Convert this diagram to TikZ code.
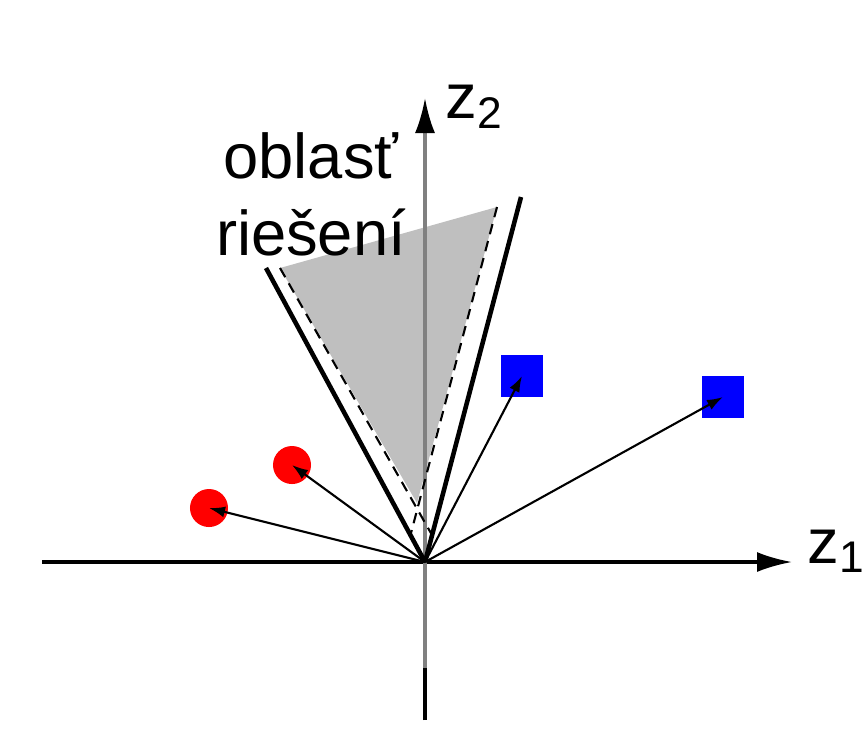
\documentclass[tikz,border=0pt]{standalone}
\usepackage{fontspec}
\setmainfont{Liberation Sans}
\usetikzlibrary{arrows.meta}

\begin{document}
\begin{tikzpicture}[
  x=0.01cm, y=-0.01cm,
  axis/.style={line width=0.9pt, -{Latex[length=3.5mm, width=2mm, color=black]}},
  bound/.style={line width=1.3pt},
  margin/.style={line width=0.6pt, dash pattern=on 3pt off 2pt},
  vec/.style={line width=0.6pt, -{Latex[length=1.6mm, width=1.1mm]}},
  classa/.style={circle, fill=red, minimum size=3.8mm, inner sep=0pt},
  classb/.style={fill=blue, minimum size=4.2mm, inner sep=0pt},
  lbl/.style={font=\fontsize{18}{21.8}\selectfont}
]
  \useasboundingbox (0,0) rectangle (865,739);

  \coordinate (O) at (425,562);
  \coordinate (xa) at (42,562);
  \coordinate (xb) at (792,562);
  \coordinate (ya) at (425,720);
  \coordinate (ym) at (425,668);
  \coordinate (yb) at (425,98);

  % solution region
  \coordinate (gl) at (280,268);
  \coordinate (gr) at (497,207);
  \coordinate (gt) at (417,503);
  \coordinate (dl) at (432,535);
  \coordinate (dr) at (411,533);
  \fill[black!25] (gl) -- (gr) -- (gt) -- cycle;

  % axes
  \draw[axis] (xa) -- (xb);
  \draw[axis, draw=black!50] (ya) -- (yb);
  \draw[line width=0.9pt] (ya) -- (ym);

  % margins
  \draw[margin] (gl) -- (dl);
  \draw[margin] (gr) -- (dr);
  \coordinate (bl) at (266,268);
  \coordinate (br) at (521,197);
  \draw[bound] (bl) -- (O);
  \draw[bound] (br) -- (O);

  % samples
  \node[classa] (r1) at (292,465) {};
  \node[classa] (r2) at (209,508) {};
  \node[classb] (b1) at (522,376) {};
  \node[classb] (b2) at (723,397) {};
  \draw[vec] (O) -- (r1.center);
  \draw[vec] (O) -- (r2.center);
  \draw[vec] (O) -- (b1.center);
  \draw[vec] (O) -- (b2.center);

  \node[lbl, anchor=base, align=center] (reg) at (311,255) {oblasť\\riešení};
  \node[lbl, anchor=base west, inner sep=0pt] (zy) at (445,118) {z\textsubscript{2}};
  \node[lbl, anchor=base west, inner sep=0pt] (zx) at (807,563) {z\textsubscript{1}};
\end{tikzpicture}
\end{document}
